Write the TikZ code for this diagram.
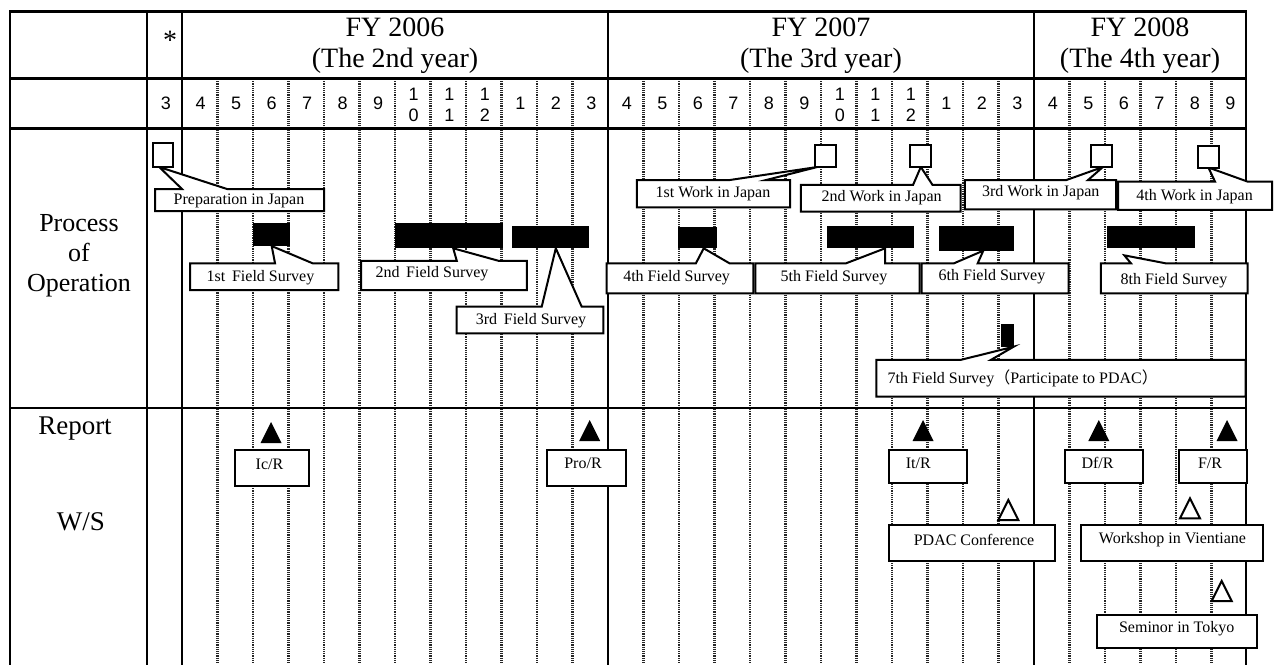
\documentclass[tikz,border=0pt]{standalone}
\usepackage{fontspec}
\setmainfont{Liberation Serif}
\newfontfamily\mfont{Liberation Sans}
\newfontfamily\cjk{Noto Sans CJK JP}
\usetikzlibrary{calc}
\pgfdeclarelayer{grid}
\pgfdeclarelayer{boxes}
\pgfsetlayers{grid,boxes,main}
\newcommand{\calloutpath}[4]{%
  \begin{pgfonlayer}{boxes}
  \draw[cbox] (#1.north west) -- ($(#1.north west)+(#2,0)$) -- #4 -- ($(#1.north west)+(#3,0)$) -- (#1.north east) -- (#1.south east) -- (#1.south west) -- cycle;
  \end{pgfonlayer}}
\begin{document}
\begin{tikzpicture}[x=1pt,y=-1pt,
  solidl/.style={line width=2.6pt, line cap=rect},
  dotl/.style={line width=2.8pt, dash pattern=on 1.2pt off 1pt, black!85},
  fyt/.style={font=\fontsize{28}{30}\selectfont, inner sep=0},
  mlab/.style={font=\mfont\fontsize{18}{20.5}\selectfont, inner sep=0},
  leftlab/.style={font=\fontsize{26}{30}\selectfont, inner sep=0, align=center},
  lbl/.style={font=\fontsize{16}{19}\selectfont, inner sep=0},
  cbn/.style={rectangle, draw=none, inner sep=0, outer sep=0},
  cbox/.style={line width=2pt, fill=white, line join=miter},
  sqbox/.style={rectangle, draw, line width=2pt, fill=white, inner sep=0, outer sep=0, minimum width=21pt, minimum height=22pt},
  barbox/.style={rectangle, fill=black, inner sep=0, outer sep=0},
  rbox/.style={rectangle, draw, line width=2pt, fill=white, inner sep=0, outer sep=0},
  ftri/.style={fill=black},
  otri/.style={draw, line width=2pt, fill=white, line join=miter}
]
\useasboundingbox (0,0) rectangle (1277,664);

% ---------- grid ----------
\begin{pgfonlayer}{grid}
\foreach \k in {1,...,29}{
  \ifnum\k=12\relax\else\ifnum\k=24\relax\else
    \draw[dotl] ({182+35.5*\k},79) -- ({182+35.5*\k},664);
  \fi\fi
}
\foreach \yy in {11.7,78.5,128.5,408}
  \draw[solidl] (10,\yy) -- (1246,\yy);
\foreach \xx in {10,147,182,608,1034,1246}
  \draw[solidl] (\xx,11.7) -- (\xx,664);
\end{pgfonlayer}

% ---------- header ----------
\node[fyt] (star) at (170,40) {*};
\node[fyt] (fy6a) at (395,27.3) {FY 2006};
\node[fyt] (fy6b) at (395,61.3) {(The 2nd year)};
\node[fyt] (fy7a) at (821,27.3) {FY 2007};
\node[fyt] (fy7b) at (821,61.3) {(The 3rd year)};
\node[fyt] (fy8a) at (1140,27.3) {FY 2008};
\node[fyt] (fy8b) at (1140,61.3) {(The 4th year)};

\node[mlab] (m3s) at (166,103.5) {3};
\foreach \m [count=\i from 0] in {4,5,6,7,8,9,10,11,12,1,2,3,4,5,6,7,8,9,10,11,12,1,2,3,4,5,6,7,8,9}{
  \pgfmathsetmacro\cx{182+35.5*(\i+0.5)+1}
  \ifnum\m>9
    \pgfmathtruncatemacro\u{\m-10}
    \node[mlab, align=center] (m\i) at (\cx,104.8) {1\\\u};
  \else
    \node[mlab] (m\i) at (\cx,103.5) {\m};
  \fi
}

% ---------- left labels ----------
\node[leftlab] (proc) at (79,255.5) {Process\\of\\Operation};
\node[leftlab, font=\fontsize{27}{30}\selectfont] (rep) at (75,429) {Report};
\node[leftlab, font=\fontsize{27}{30}\selectfont] (ws) at (81,522) {W/S};

% ---------- squares (work in Japan) ----------
\node[sqbox, minimum width=20pt, minimum height=24pt] (s0) at (162.7,155) {};
\node[sqbox] (s1) at (825.8,156) {};
\node[sqbox] (s2) at (920.8,156) {};
\node[sqbox] (s3) at (1101.9,156) {};
\node[sqbox] (s4) at (1208.4,156.5) {};

% ---------- bars (field surveys) ----------
\node[barbox, minimum width=36.7pt, minimum height=22.7pt] (b1) at (271.7,234.7) {};
\node[barbox, minimum width=108.3pt, minimum height=25.6pt] (b2) at (449.2,235.5) {};
\node[barbox, minimum width=77pt, minimum height=22.6pt] (b3) at (550.8,237) {};
\node[barbox, minimum width=39pt, minimum height=21.6pt] (b4) at (697.2,237.5) {};
\node[barbox, minimum width=87.6pt, minimum height=22.3pt] (b5) at (870.5,237.2) {};
\node[barbox, minimum width=74.6pt, minimum height=24.7pt] (b6) at (976.3,238.3) {};
\node[barbox, minimum width=87.7pt, minimum height=22.3pt] (b8) at (1151.2,237.2) {};
\node[barbox, minimum width=12.9pt, minimum height=22.4pt] (b7) at (1007.2,335.5) {};

% ---------- callouts ----------
\node[cbn, minimum width=169pt, minimum height=22pt] (c0) at (239.5,200) {};
\calloutpath{c0}{27}{72}{($(s0.south west)+(6.5,0)$)}
\node[lbl] (c0t) at (239,201) {Preparation in Japan};

\node[cbn, minimum width=148.3pt, minimum height=26.7pt] (c1) at (264.2,276.7) {};
\calloutpath{c1}{85}{122.7}{(b1.south)}
\node[lbl] (c1t) at (260.5,278) {1st\, Field Survey};

\node[cbn, minimum width=165.7pt, minimum height=29.3pt] (c2) at (443.9,275.4) {};
\calloutpath{c2}{95.7}{137.3}{($(b2.south)+(4,0)$)}
\node[lbl] (c2t) at (432,274) {2nd\, Field Survey};

\node[cbn, minimum width=146.6pt, minimum height=26.6pt] (c3) at (530,320) {};
\calloutpath{c3}{85}{125}{($(b3.south)+(5,0)$)}
\node[lbl] (c3t) at (531,321) {3rd\, Field Survey};

\node[cbn, minimum width=153.3pt, minimum height=27.3pt] (c4) at (713.4,193.7) {};
\calloutpath{c4}{92.8}{129.3}{($(s1.south west)+(2,0)$)}
\node[lbl] (c4t) at (713,193.5) {1st Work in Japan};

\node[cbn, minimum width=159.7pt, minimum height=26.7pt] (c5) at (880.7,198.3) {};
\calloutpath{c5}{112.2}{131.7}{(s2.south)}
\node[lbl] (c5t) at (881.6,198) {2nd Work in Japan};

\node[cbn, minimum width=151.2pt, minimum height=29.3pt] (c6) at (1040.4,194.7) {};
\calloutpath{c6}{101.5}{123.2}{($(s3.south)+(1,0)$)}
\node[lbl] (c6t) at (1040.7,193) {3rd Work in Japan};

\node[cbn, minimum width=154pt, minimum height=28.3pt] (c7) at (1195,195.8) {};
\calloutpath{c7}{97}{129.7}{(s4.south)}
\node[lbl] (c7t) at (1194.6,197) {4th Work in Japan};

\node[cbn, minimum width=146.8pt, minimum height=30pt] (c8) at (679.9,278.3) {};
\calloutpath{c8}{89.4}{123}{($(b4.south)+(6.5,0)$)}
\node[lbl] (c8t) at (676.6,278) {4th Field Survey};

\node[cbn, minimum width=164.1pt, minimum height=30pt] (c9) at (837.5,278.3) {};
\calloutpath{c9}{90.6}{129.6}{($(b5.south)+(14.5,0)$)}
\node[lbl] (c9t) at (834,278) {5th Field Survey};

\node[cbn, minimum width=146.8pt, minimum height=30pt] (c10) at (995.1,278.3) {};
\calloutpath{c10}{32.3}{56}{($(b6.south)+(7,0)$)}
\node[lbl] (c10t) at (992,277) {6th Field Survey};

\node[cbn, minimum width=146.8pt, minimum height=30pt] (c11) at (1174.3,278.3) {};
\coordinate (tip8) at ($(b8.south west)+(17,7)$);
\calloutpath{c11}{30}{64.7}{(tip8)}
\node[lbl] (c11t) at (1174,280.5) {8th Field Survey};

\node[cbn, minimum width=369.2pt, minimum height=36.7pt] (c12) at (1060.9,378.3) {};
\calloutpath{c12}{84.2}{114.5}{(b7.south east)}
\node[lbl] (c12t) at (1022.7,378) {7th Field Survey{\cjk （}Participate to PDAC{\cjk ）}};

% ---------- reports ----------
\coordinate (t1) at (271,443);
\coordinate (t2) at (589.7,441);
\coordinate (t3) at (923,441);
\coordinate (t4) at (1098.8,441);
\coordinate (t5) at (1227,441);
\foreach \t in {t1,t2,t3,t4,t5}
  \fill[ftri] (\t) ++(-10.5,0) -- ++(21,0) -- ++(-10.5,-21) -- cycle;

\node[rbox, minimum width=73.4pt, minimum height=36pt] (r1) at (272,468) {};
\node[lbl] (r1t) at (269.5,464) {Ic/R};
\node[rbox, minimum width=78.7pt, minimum height=36pt] (r2) at (586.7,468) {};
\node[lbl] (r2t) at (583,463) {Pro/R};
\node[rbox, minimum width=78pt, minimum height=32.7pt] (r3) at (928.3,466.4) {};
\node[lbl] (r3t) at (918.3,463) {It/R};
\node[rbox, minimum width=78.3pt, minimum height=32.7pt] (r4) at (1104.2,466.4) {};
\node[lbl] (r4t) at (1097.5,463) {Df/R};
\node[rbox, minimum width=68pt, minimum height=32.7pt] (r5) at (1213.3,466.4) {};
\node[lbl] (r5t) at (1210,463) {F/R};

% ---------- workshops ----------
\coordinate (w1) at (1008.3,520);
\coordinate (w2) at (1190,518.3);
\coordinate (w3) at (1221.7,601);
\foreach \w in {w1,w2,w3}
  \draw[otri] (\w) ++(-10,0) -- ++(20,0) -- ++(-10,-20) -- cycle;

\node[rbox, minimum width=165.7pt, minimum height=35.7pt] (r6) at (972.2,542.9) {};
\node[lbl] (r6t) at (974,540) {PDAC Conference};
\node[rbox, minimum width=182.3pt, minimum height=35.7pt] (r7) at (1172.2,542.9) {};
\node[lbl] (r7t) at (1172.5,540) {Workshop in Vientiane};
\node[rbox, minimum width=160.6pt, minimum height=33.3pt] (r8) at (1177,631.7) {};
\node[lbl] (r8t) at (1176.7,629) {Seminor in Tokyo};
\end{tikzpicture}
\end{document}
